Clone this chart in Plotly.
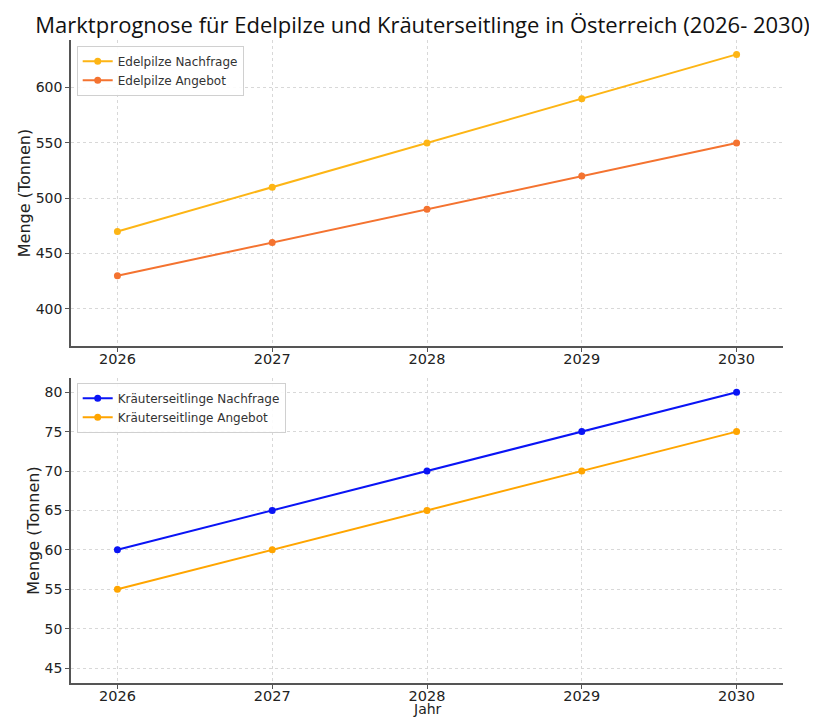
import plotly.graph_objects as go
from plotly.subplots import make_subplots

years = [2026, 2027, 2028, 2029, 2030]
edel_nachfrage = [470, 510, 550, 590, 630]
edel_angebot = [430, 460, 490, 520, 550]
kraeuter_nachfrage = [60, 65, 70, 75, 80]
kraeuter_angebot = [55, 60, 65, 70, 75]

font_main = "DejaVu Sans, Liberation Sans, sans-serif"

fig = make_subplots(rows=2, cols=1, vertical_spacing=0.05)

def add(x, y, name, color, row, legend):
    fig.add_trace(go.Scatter(x=x, y=y, name=name, mode="lines+markers",
                             line=dict(color=color, width=2),
                             marker=dict(color=color, size=7),
                             legend=legend), row=row, col=1)

add(years, edel_nachfrage, "Edelpilze Nachfrage", "#FDB515", 1, "legend")
add(years, edel_angebot, "Edelpilze Angebot", "#F47330", 1, "legend")
add(years, kraeuter_nachfrage, "Kräuterseitlinge Nachfrage", "#0A14F5", 2, "legend2")
add(years, kraeuter_angebot, "Kräuterseitlinge Angebot", "#FFA500", 2, "legend2")

axis_common = dict(showline=True, linecolor="#555", linewidth=1.5, ticks="outside",
                   ticklen=4, tickcolor="#555", showgrid=True, gridcolor="#d8d8d8",
                   griddash="dot", gridwidth=1, zeroline=False, mirror=False, automargin=False,
                   tickfont=dict(family=font_main, size=14, color="#222"))

legend_common = dict(xanchor="left", yanchor="top", bgcolor="rgba(255,255,255,0.9)",
                     bordercolor="#d0d0d0", borderwidth=1,
                     font=dict(family=font_main, size=12, color="#333"),
                     tracegroupgap=0, itemwidth=30)

fig.update_layout(
    width=809, height=710,
    margin=dict(l=63, r=34, t=32, b=35),
    plot_bgcolor="white", paper_bgcolor="white",
    title=dict(text="Marktprognose für Edelpilze und Kräuterseitlinge in Österreich (2026- 2030)",
               x=0.5124, xanchor="center", y=0.976, yanchor="middle", automargin=False,
               font=dict(family="Liberation Sans Narrow, Open Sans, sans-serif", size=22, color="#111")),
    legend=dict(x=0.008, y=0.991, **legend_common),
    legend2=dict(x=0.008, y=0.467, **legend_common),
)

fig.update_xaxes(**axis_common)
fig.update_yaxes(**axis_common)
fig.update_xaxes(range=[2025.7, 2030.3], tickvals=years, ticktext=[str(y) for y in years],
                 ticklabelstandoff=-5,
                 tickfont=dict(family=font_main, size=14.5, color="#222"))
fig.update_xaxes(domain=[0, 1])
fig.update_yaxes(range=[366.5, 643], tickvals=[400, 450, 500, 550, 600], domain=[0.5241, 1], row=1, col=1,
                 title=dict(text="Menge (Tonnen)", font=dict(family=font_main, size=16, color="#222"), standoff=1))
fig.update_yaxes(range=[43.1, 81.8], tickvals=[45, 50, 55, 60, 65, 70, 75, 80], domain=[0, 0.4743], row=2, col=1,
                 title=dict(text="Menge (Tonnen)", font=dict(family=font_main, size=16, color="#222"), standoff=1))

fig.add_annotation(text="Jahr", xref="paper", yref="paper", x=0.5, y=-0.041,
                   xanchor="center", yanchor="middle", showarrow=False,
                   font=dict(family=font_main, size=14, color="#222"))

fig.write_html("out.html")
